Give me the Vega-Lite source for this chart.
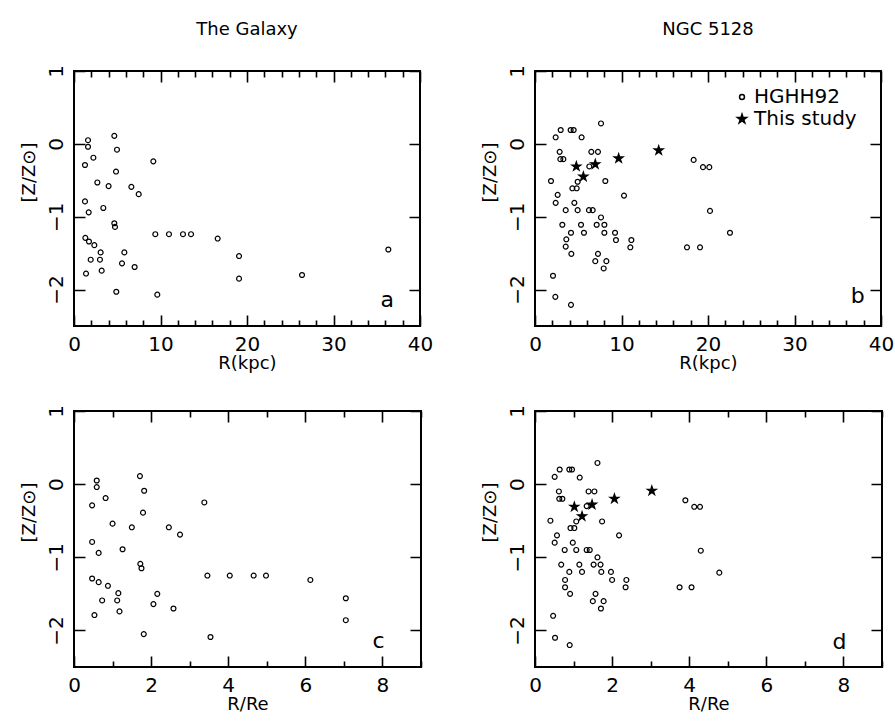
{
  "$schema": "https://vega.github.io/schema/vega-lite/v6.json",
  "padding": {"left": 19, "top": 19, "right": 5, "bottom": 5},
  "bounds": "flush",
  "columns": 2,
  "spacing": {"row": 85, "column": 114},
  "resolve": {"scale": {"shape": "independent", "fill": "independent", "size": "independent"}, "legend": {"shape": "independent", "fill": "independent", "size": "independent"}},
  "config": {
    "font": "DejaVu Sans",
    "view": {"stroke": "black", "strokeWidth": 2},
    "axis": {"domain": false, "ticks": false, "grid": true, "gridColor": "black", "gridOpacity": 1, "gridWidth": 1.6, "labelColor": "black", "labelFont": "DejaVu Sans", "labelFontSize": 20, "titleColor": "black", "titleFont": "DejaVu Sans", "titleFontSize": 18, "titleFontWeight": "normal", "labelOverlap": false, "labelFlush": false, "labelBound": false},
    "title": {"font": "DejaVu Sans", "fontSize": 18, "fontWeight": "normal", "color": "black"}
  },
  "datasets": {
    "galR": [
      {"r":1.62,"z":0.05},{"r":1.62,"z":-0.04},{"r":1.27,"z":-0.29},{"r":2.24,"z":-0.19},{"r":4.66,"z":0.11},{"r":4.97,"z":-0.08},{"r":4.86,"z":-0.38},{"r":2.70,"z":-0.53},{"r":4.00,"z":-0.58},{"r":6.63,"z":-0.59},{"r":7.48,"z":-0.69},{"r":9.17,"z":-0.24},{"r":1.27,"z":-0.79},{"r":1.70,"z":-0.94},{"r":3.39,"z":-0.88},{"r":4.66,"z":-1.09},{"r":4.74,"z":-1.14},{"r":1.31,"z":-1.29},{"r":1.73,"z":-1.34},{"r":2.35,"z":-1.39},{"r":3.08,"z":-1.49},{"r":1.93,"z":-1.59},{"r":3.00,"z":-1.59},{"r":3.20,"z":-1.74},{"r":1.39,"z":-1.78},{"r":5.82,"z":-1.49},{"r":5.55,"z":-1.64},{"r":7.01,"z":-1.69},{"r":4.89,"z":-2.03},{"r":9.40,"z":-1.24},{"r":10.98,"z":-1.24},{"r":12.60,"z":-1.24},{"r":13.53,"z":-1.24},{"r":16.61,"z":-1.30},{"r":19.08,"z":-1.54},{"r":19.08,"z":-1.85},{"r":26.36,"z":-1.80},{"r":36.34,"z":-1.45},{"r":9.63,"z":-2.07}
    ],
    "galRe": [
      {"r":0.59,"z":0.05},{"r":0.59,"z":-0.04},{"r":0.47,"z":-0.29},{"r":0.82,"z":-0.19},{"r":1.71,"z":0.11},{"r":1.82,"z":-0.09},{"r":1.79,"z":-0.39},{"r":1.00,"z":-0.54},{"r":1.50,"z":-0.59},{"r":2.46,"z":-0.59},{"r":2.75,"z":-0.69},{"r":3.38,"z":-0.25},{"r":0.47,"z":-0.79},{"r":0.64,"z":-0.94},{"r":1.26,"z":-0.89},{"r":1.72,"z":-1.09},{"r":1.75,"z":-1.15},{"r":0.47,"z":-1.29},{"r":0.64,"z":-1.34},{"r":0.88,"z":-1.39},{"r":1.15,"z":-1.49},{"r":0.73,"z":-1.59},{"r":1.12,"z":-1.59},{"r":1.18,"z":-1.74},{"r":0.53,"z":-1.79},{"r":2.16,"z":-1.50},{"r":2.06,"z":-1.64},{"r":2.58,"z":-1.70},{"r":1.81,"z":-2.05},{"r":3.46,"z":-1.25},{"r":4.04,"z":-1.25},{"r":4.66,"z":-1.25},{"r":4.98,"z":-1.25},{"r":6.13,"z":-1.31},{"r":7.05,"z":-1.56},{"r":7.05,"z":-1.86},{"r":3.54,"z":-2.09}
    ],
    "ngcR": [
      {"r":2.39,"z":0.09,"src":"HGHH92"},{"r":2.97,"z":0.19,"src":"HGHH92"},{"r":4.12,"z":0.19,"src":"HGHH92"},{"r":4.47,"z":0.19,"src":"HGHH92"},{"r":5.39,"z":0.09,"src":"HGHH92"},{"r":7.63,"z":0.28,"src":"HGHH92"},{"r":2.85,"z":-0.11,"src":"HGHH92"},{"r":2.93,"z":-0.21,"src":"HGHH92"},{"r":3.28,"z":-0.21,"src":"HGHH92"},{"r":6.51,"z":-0.11,"src":"HGHH92"},{"r":7.28,"z":-0.11,"src":"HGHH92"},{"r":6.28,"z":-0.31,"src":"HGHH92"},{"r":1.85,"z":-0.51,"src":"HGHH92"},{"r":2.62,"z":-0.70,"src":"HGHH92"},{"r":2.39,"z":-0.81,"src":"HGHH92"},{"r":4.32,"z":-0.61,"src":"HGHH92"},{"r":4.82,"z":-0.61,"src":"HGHH92"},{"r":4.93,"z":-0.52,"src":"HGHH92"},{"r":8.13,"z":-0.51,"src":"HGHH92"},{"r":10.29,"z":-0.71,"src":"HGHH92"},{"r":3.55,"z":-0.91,"src":"HGHH92"},{"r":4.55,"z":-0.81,"src":"HGHH92"},{"r":4.93,"z":-0.91,"src":"HGHH92"},{"r":6.24,"z":-0.91,"src":"HGHH92"},{"r":6.67,"z":-0.91,"src":"HGHH92"},{"r":7.63,"z":-1.01,"src":"HGHH92"},{"r":3.16,"z":-1.11,"src":"HGHH92"},{"r":5.32,"z":-1.11,"src":"HGHH92"},{"r":7.13,"z":-1.11,"src":"HGHH92"},{"r":8.02,"z":-1.11,"src":"HGHH92"},{"r":4.16,"z":-1.22,"src":"HGHH92"},{"r":5.66,"z":-1.22,"src":"HGHH92"},{"r":8.02,"z":-1.22,"src":"HGHH92"},{"r":9.25,"z":-1.22,"src":"HGHH92"},{"r":3.62,"z":-1.31,"src":"HGHH92"},{"r":3.55,"z":-1.41,"src":"HGHH92"},{"r":9.36,"z":-1.32,"src":"HGHH92"},{"r":11.14,"z":-1.32,"src":"HGHH92"},{"r":11.02,"z":-1.42,"src":"HGHH92"},{"r":4.20,"z":-1.51,"src":"HGHH92"},{"r":7.28,"z":-1.51,"src":"HGHH92"},{"r":6.97,"z":-1.61,"src":"HGHH92"},{"r":8.25,"z":-1.61,"src":"HGHH92"},{"r":7.94,"z":-1.71,"src":"HGHH92"},{"r":2.08,"z":-1.81,"src":"HGHH92"},{"r":2.35,"z":-2.10,"src":"HGHH92"},{"r":4.16,"z":-2.21,"src":"HGHH92"},{"r":18.34,"z":-0.22,"src":"HGHH92"},{"r":19.42,"z":-0.32,"src":"HGHH92"},{"r":20.15,"z":-0.32,"src":"HGHH92"},{"r":20.23,"z":-0.92,"src":"HGHH92"},{"r":22.54,"z":-1.22,"src":"HGHH92"},{"r":17.57,"z":-1.42,"src":"HGHH92"},{"r":19.08,"z":-1.42,"src":"HGHH92"},
      {"r":4.78,"z":-0.31,"src":"This study"},{"r":5.59,"z":-0.45,"src":"This study"},{"r":6.97,"z":-0.28,"src":"This study"},{"r":9.67,"z":-0.20,"src":"This study"},{"r":14.30,"z":-0.09,"src":"This study"}
    ],
    "ngcRe": [
      {"r":0.51,"z":0.10,"src":"HGHH92"},{"r":0.64,"z":0.20,"src":"HGHH92"},{"r":0.89,"z":0.20,"src":"HGHH92"},{"r":0.96,"z":0.20,"src":"HGHH92"},{"r":1.16,"z":0.09,"src":"HGHH92"},{"r":1.62,"z":0.29,"src":"HGHH92"},{"r":0.62,"z":-0.10,"src":"HGHH92"},{"r":0.63,"z":-0.20,"src":"HGHH92"},{"r":0.71,"z":-0.20,"src":"HGHH92"},{"r":1.39,"z":-0.10,"src":"HGHH92"},{"r":1.54,"z":-0.10,"src":"HGHH92"},{"r":1.34,"z":-0.30,"src":"HGHH92"},{"r":0.40,"z":-0.50,"src":"HGHH92"},{"r":0.57,"z":-0.70,"src":"HGHH92"},{"r":0.51,"z":-0.80,"src":"HGHH92"},{"r":0.92,"z":-0.60,"src":"HGHH92"},{"r":1.02,"z":-0.60,"src":"HGHH92"},{"r":1.07,"z":-0.51,"src":"HGHH92"},{"r":1.74,"z":-0.51,"src":"HGHH92"},{"r":2.18,"z":-0.70,"src":"HGHH92"},{"r":0.77,"z":-0.90,"src":"HGHH92"},{"r":0.98,"z":-0.80,"src":"HGHH92"},{"r":1.07,"z":-0.90,"src":"HGHH92"},{"r":1.34,"z":-0.90,"src":"HGHH92"},{"r":1.42,"z":-0.90,"src":"HGHH92"},{"r":1.62,"z":-1.00,"src":"HGHH92"},{"r":0.68,"z":-1.10,"src":"HGHH92"},{"r":1.15,"z":-1.10,"src":"HGHH92"},{"r":1.52,"z":-1.10,"src":"HGHH92"},{"r":1.70,"z":-1.10,"src":"HGHH92"},{"r":0.89,"z":-1.20,"src":"HGHH92"},{"r":1.22,"z":-1.20,"src":"HGHH92"},{"r":1.72,"z":-1.20,"src":"HGHH92"},{"r":1.97,"z":-1.20,"src":"HGHH92"},{"r":0.78,"z":-1.31,"src":"HGHH92"},{"r":0.78,"z":-1.41,"src":"HGHH92"},{"r":2.00,"z":-1.31,"src":"HGHH92"},{"r":2.37,"z":-1.31,"src":"HGHH92"},{"r":2.35,"z":-1.41,"src":"HGHH92"},{"r":0.91,"z":-1.50,"src":"HGHH92"},{"r":1.57,"z":-1.50,"src":"HGHH92"},{"r":1.50,"z":-1.60,"src":"HGHH92"},{"r":1.78,"z":-1.60,"src":"HGHH92"},{"r":1.71,"z":-1.70,"src":"HGHH92"},{"r":0.47,"z":-1.80,"src":"HGHH92"},{"r":0.52,"z":-2.10,"src":"HGHH92"},{"r":0.90,"z":-2.20,"src":"HGHH92"},{"r":3.90,"z":-0.22,"src":"HGHH92"},{"r":4.13,"z":-0.31,"src":"HGHH92"},{"r":4.28,"z":-0.31,"src":"HGHH92"},{"r":4.30,"z":-0.91,"src":"HGHH92"},{"r":4.78,"z":-1.21,"src":"HGHH92"},{"r":3.75,"z":-1.41,"src":"HGHH92"},{"r":4.06,"z":-1.41,"src":"HGHH92"},
      {"r":1.02,"z":-0.31,"src":"This study"},{"r":1.22,"z":-0.44,"src":"This study"},{"r":1.48,"z":-0.28,"src":"This study"},{"r":2.06,"z":-0.20,"src":"This study"},{"r":3.03,"z":-0.09,"src":"This study"}
    ]
  },
  "concat": [
    {
      "width": 346, "height": 255,
      "title": {"text": "The Galaxy", "offset": 26},
      "data": {"name": "galR"},
      "layer": [
        {
          "mark": {"type": "point", "shape": "circle", "filled": false, "size": 24, "strokeWidth": 1.2, "color": "black", "opacity": 1},
          "encoding": {
            "x": {"field": "r", "type": "quantitative", "scale": {"domain": [0, 40], "nice": false, "zero": false},
              "axis": {"orient": "bottom", "values": [0,2,4,6,8,10,12,14,16,18,20,22,24,26,28,30,32,34,36,38,40], "format": "d", "labelExpr": "datum.value % 10 == 0 ? datum.label : ''", "gridDash": {"condition": {"test": "datum.value % 10 == 0", "value": [11, 233]}, "value": [6, 243]}, "labelPadding": 8, "title": "R(kpc)", "titleY": 37, "titleBaseline": "middle"}},
            "y": {"field": "z", "type": "quantitative", "scale": {"domain": [-2.5, 1], "nice": false, "zero": false},
              "axis": {"orient": "left", "values": [-2,-1,0,1], "format": "d", "gridDash": [11, 324], "labelAngle": -90, "labelAlign": "center", "labelBaseline": "alphabetic", "labelPadding": 12, "title": "[Z/Z⊙]", "titleX": -45, "titleY": 101, "titleAngle": -90, "titleAlign": "center", "titleBaseline": "middle"}}
          }
        },
        {
          "data": {"values": [{}]},
          "mark": {"type": "text", "fontSize": 22, "font": "DejaVu Sans", "align": "center", "baseline": "alphabetic", "color": "black"},
          "encoding": {
            "x": {"datum": 36.2, "type": "quantitative", "axis": null},
            "y": {"datum": -2.24, "type": "quantitative", "axis": null},
            "text": {"value": "a"}
          }
        }
      ],
      "resolve": {"axis": {"x": "independent", "y": "independent"}}
    },
    {
      "width": 346, "height": 255,
      "title": {"text": "NGC 5128", "offset": 26},
      "data": {"name": "ngcR"},
      "layer": [
        {
          "mark": {"type": "point", "filled": true, "opacity": 1, "stroke": "black", "strokeWidth": 1.2},
          "encoding": {
            "x": {"field": "r", "type": "quantitative", "scale": {"domain": [0, 40], "nice": false, "zero": false},
              "axis": {"orient": "bottom", "values": [0,2,4,6,8,10,12,14,16,18,20,22,24,26,28,30,32,34,36,38,40], "format": "d", "labelExpr": "datum.value % 10 == 0 ? datum.label : ''", "gridDash": {"condition": {"test": "datum.value % 10 == 0", "value": [11, 233]}, "value": [6, 243]}, "labelPadding": 8, "title": "R(kpc)", "titleY": 37, "titleBaseline": "middle"}},
            "y": {"field": "z", "type": "quantitative", "scale": {"domain": [-2.5, 1], "nice": false, "zero": false},
              "axis": {"orient": "left", "values": [-2,-1,0,1], "format": "d", "gridDash": [11, 324], "labelAngle": -90, "labelAlign": "center", "labelBaseline": "alphabetic", "labelPadding": 12, "title": "[Z/Z⊙]", "titleX": -45, "titleY": 101, "titleAngle": -90, "titleAlign": "center", "titleBaseline": "middle"}},
            "shape": {"field": "src", "type": "nominal", "scale": {"domain": ["HGHH92", "This study"], "range": ["circle", "M0,-1L0.2245,-0.309L0.9511,-0.309L0.3633,0.118L0.5878,0.809L0,0.382L-0.5878,0.809L-0.3633,0.118L-0.9511,-0.309L-0.2245,-0.309Z"]},
              "legend": {"title": null, "orient": "none", "legendX": 197, "legendY": 16, "padding": 0, "labelFontSize": 20, "labelFont": "DejaVu Sans", "labelColor": "black", "labelOffset": 2, "rowPadding": 2, "encode": {"symbols": {"update": {"stroke": {"value": "black"}, "strokeWidth": {"value": 1.2}}}}}},
            "fill": {"field": "src", "type": "nominal", "scale": {"domain": ["HGHH92", "This study"], "range": ["transparent", "black"]},
              "legend": {"title": null, "orient": "none", "legendX": 197, "legendY": 16, "padding": 0, "labelFontSize": 20, "labelFont": "DejaVu Sans", "labelColor": "black", "labelOffset": 2, "rowPadding": 2, "encode": {"symbols": {"update": {"stroke": {"value": "black"}, "strokeWidth": {"value": 1.2}}}}}},
            "size": {"field": "src", "type": "nominal", "scale": {"domain": ["HGHH92", "This study"], "range": [24, 90]},
              "legend": {"title": null, "orient": "none", "legendX": 197, "legendY": 16, "padding": 0, "labelFontSize": 20, "labelFont": "DejaVu Sans", "labelColor": "black", "labelOffset": 2, "rowPadding": 2, "encode": {"symbols": {"update": {"stroke": {"value": "black"}, "strokeWidth": {"value": 1.2}}}}}}
          }
        },
        {
          "data": {"values": [{}]},
          "mark": {"type": "text", "fontSize": 22, "font": "DejaVu Sans", "align": "center", "baseline": "alphabetic", "color": "black"},
          "encoding": {
            "x": {"datum": 37.3, "type": "quantitative", "axis": null},
            "y": {"datum": -2.19, "type": "quantitative", "axis": null},
            "text": {"value": "b"}
          }
        }
      ],
      "resolve": {"axis": {"x": "independent", "y": "independent"}}
    },
    {
      "width": 347, "height": 256,
      "data": {"name": "galRe"},
      "layer": [
        {
          "mark": {"type": "point", "shape": "circle", "filled": false, "size": 24, "strokeWidth": 1.2, "color": "black", "opacity": 1},
          "encoding": {
            "x": {"field": "r", "type": "quantitative", "scale": {"domain": [0, 9], "nice": false, "zero": false},
              "axis": {"orient": "bottom", "values": [0,1,2,3,4,5,6,7,8,9], "format": "d", "labelExpr": "datum.value % 2 == 0 ? datum.label : ''", "gridDash": {"condition": {"test": "datum.value % 2 == 0", "value": [11, 234]}, "value": [6, 244]}, "labelPadding": 8, "title": "R/Re", "titleY": 37, "titleBaseline": "middle"}},
            "y": {"field": "z", "type": "quantitative", "scale": {"domain": [-2.5, 1], "nice": false, "zero": false},
              "axis": {"orient": "left", "values": [-2,-1,0,1], "format": "d", "gridDash": [11, 325], "labelAngle": -90, "labelAlign": "center", "labelBaseline": "alphabetic", "labelPadding": 12, "title": "[Z/Z⊙]", "titleX": -45, "titleY": 101, "titleAngle": -90, "titleAlign": "center", "titleBaseline": "middle"}}
          }
        },
        {
          "data": {"values": [{}]},
          "mark": {"type": "text", "fontSize": 22, "font": "DejaVu Sans", "align": "center", "baseline": "alphabetic", "color": "black"},
          "encoding": {
            "x": {"datum": 7.9, "type": "quantitative", "axis": null},
            "y": {"datum": -2.24, "type": "quantitative", "axis": null},
            "text": {"value": "c"}
          }
        }
      ],
      "resolve": {"axis": {"x": "independent", "y": "independent"}}
    },
    {
      "width": 347, "height": 256,
      "data": {"name": "ngcRe"},
      "layer": [
        {
          "mark": {"type": "point", "filled": true, "opacity": 1, "stroke": "black", "strokeWidth": 1.2},
          "encoding": {
            "x": {"field": "r", "type": "quantitative", "scale": {"domain": [0, 9], "nice": false, "zero": false},
              "axis": {"orient": "bottom", "values": [0,1,2,3,4,5,6,7,8,9], "format": "d", "labelExpr": "datum.value % 2 == 0 ? datum.label : ''", "gridDash": {"condition": {"test": "datum.value % 2 == 0", "value": [11, 234]}, "value": [6, 244]}, "labelPadding": 8, "title": "R/Re", "titleY": 37, "titleBaseline": "middle"}},
            "y": {"field": "z", "type": "quantitative", "scale": {"domain": [-2.5, 1], "nice": false, "zero": false},
              "axis": {"orient": "left", "values": [-2,-1,0,1], "format": "d", "gridDash": [11, 325], "labelAngle": -90, "labelAlign": "center", "labelBaseline": "alphabetic", "labelPadding": 12, "title": "[Z/Z⊙]", "titleX": -45, "titleY": 101, "titleAngle": -90, "titleAlign": "center", "titleBaseline": "middle"}},
            "shape": {"field": "src", "type": "nominal", "scale": {"domain": ["HGHH92", "This study"], "range": ["circle", "M0,-1L0.2245,-0.309L0.9511,-0.309L0.3633,0.118L0.5878,0.809L0,0.382L-0.5878,0.809L-0.3633,0.118L-0.9511,-0.309L-0.2245,-0.309Z"]}, "legend": null},
            "fill": {"field": "src", "type": "nominal", "scale": {"domain": ["HGHH92", "This study"], "range": ["transparent", "black"]}, "legend": null},
            "size": {"field": "src", "type": "nominal", "scale": {"domain": ["HGHH92", "This study"], "range": [24, 90]}, "legend": null}
          }
        },
        {
          "data": {"values": [{}]},
          "mark": {"type": "text", "fontSize": 22, "font": "DejaVu Sans", "align": "center", "baseline": "alphabetic", "color": "black"},
          "encoding": {
            "x": {"datum": 7.9, "type": "quantitative", "axis": null},
            "y": {"datum": -2.25, "type": "quantitative", "axis": null},
            "text": {"value": "d"}
          }
        }
      ],
      "resolve": {"axis": {"x": "independent", "y": "independent"}}
    }
  ]
}
